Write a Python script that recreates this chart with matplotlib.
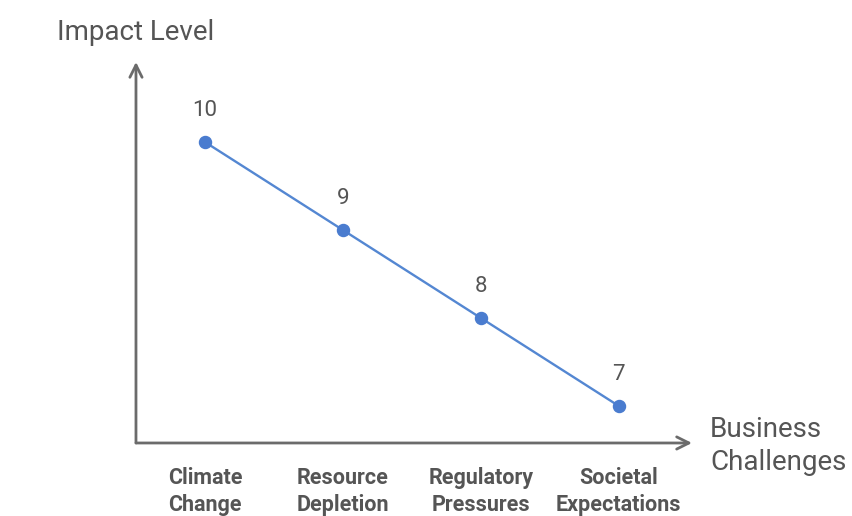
import matplotlib.pyplot as plt

plt.rcParams['font.family'] = ['Roboto', 'DejaVu Sans']

# Данные графика
challenges = ['Climate\nChange', 'Resource\nDepletion', 'Regulatory\nPressures', 'Societal\nExpectations']
impact = [10, 9, 8, 7]

axis_color = '#6b6b6b'
text_color = '#555555'
line_color = '#5487d2'
dot_color = '#4a7ccf'

fig = plt.figure(figsize=(8.52, 5.16), dpi=100)
ax = fig.add_axes([0.1596, 0.1415, 0.6526, 0.7384])

x = list(range(len(challenges)))
ax.plot(x, impact, color=line_color, linewidth=1.7, zorder=2)
ax.scatter(x, impact, s=75, color=dot_color, zorder=3)

for xi, val in zip(x, impact):
    ax.annotate(str(val), (xi, val), xytext=(0, 22.5), textcoords='offset points',
                ha='center', va='center', fontsize=16, color=text_color)

ax.set_xlim(-0.5, 3.53)
ax.set_ylim(6.58, 10.91)

for s in ax.spines.values():
    s.set_visible(False)
ax.set_xticks([])
ax.set_yticks([])

# Оси со стрелками
arrow = dict(arrowstyle='->', color=axis_color, lw=2.0, mutation_scale=22,
             shrinkA=0, shrinkB=0)
ax.annotate('', xy=(1, 0), xytext=(0, 0), xycoords='axes fraction', arrowprops=arrow)
ax.annotate('', xy=(0, 1), xytext=(0, 0), xycoords='axes fraction', arrowprops=arrow)

# Подписи категорий
for xi, name in zip(x, challenges):
    ax.text(xi, -0.064, name, transform=ax.get_xaxis_transform(), ha='center', va='top',
            fontsize=15.5, fontweight='bold', color=text_color, linespacing=1.25)

fig.text(57 / 852, 1 - 33 / 516, 'Impact Level', ha='left', va='center',
         fontsize=20, color=text_color)
fig.text(710 / 852, 1 - 446 / 516, 'Business\nChallenges', ha='left', va='center',
         fontsize=20, color=text_color, linespacing=1.32)

fig.savefig('out.png', dpi=100, facecolor='white')
